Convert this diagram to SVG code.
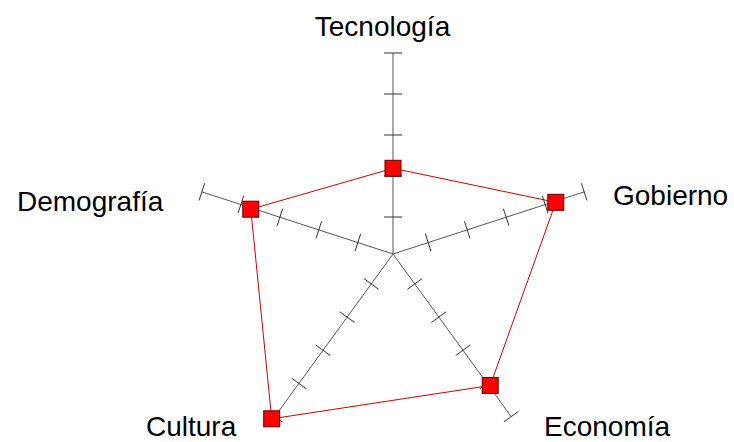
<svg xmlns="http://www.w3.org/2000/svg" width="734" height="442" viewBox="0 0 734 442">
  <style>
    .axis { stroke: #555; stroke-width: 1; fill: none; }
    .tick { stroke: #333; stroke-width: 1; }
    .series { stroke: #d00000; stroke-width: 1; fill: none; }
    .marker { fill: #ff0000; stroke: #600000; stroke-width: 1; }
    .label { font-family: "Liberation Sans", Arial, sans-serif; font-size: 28px; fill: #000; }
  </style>
  <rect width="734" height="442" fill="#fff"/>

  <!-- radial axes with tick marks -->
  <g id="connectors">
    <g id="axes">
      <line class="axis" x1="393" y1="254" x2="393" y2="53"/>
      <line class="axis" x1="393" y1="254" x2="584.15" y2="191.89"/>
      <line class="axis" x1="393" y1="254" x2="511.19" y2="416.61"/>
      <line class="axis" x1="393" y1="254" x2="274.81" y2="416.61"/>
      <line class="axis" x1="393" y1="254" x2="201.85" y2="191.89"/>
    </g>
    <g id="ticks">
      <!-- Tecnología -->
      <line class="tick" x1="384" y1="217" x2="402" y2="217"/>
      <line class="tick" x1="384" y1="176" x2="402" y2="176"/>
      <line class="tick" x1="384" y1="135" x2="402" y2="135"/>
      <line class="tick" x1="384" y1="94" x2="402" y2="94"/>
      <line class="tick" x1="384" y1="53" x2="402" y2="53"/>
      <!-- Gobierno -->
      <line class="tick" x1="425.41" y1="234.01" x2="430.97" y2="251.13"/>
      <line class="tick" x1="464.40" y1="221.34" x2="469.96" y2="238.46"/>
      <line class="tick" x1="503.39" y1="208.67" x2="508.95" y2="225.79"/>
      <line class="tick" x1="542.38" y1="196.00" x2="547.94" y2="213.12"/>
      <line class="tick" x1="581.37" y1="183.33" x2="586.93" y2="200.45"/>
      <!-- Economía -->
      <line class="tick" x1="407.48" y1="289.22" x2="422.04" y2="278.64"/>
      <line class="tick" x1="431.58" y1="322.39" x2="446.14" y2="311.81"/>
      <line class="tick" x1="455.69" y1="355.56" x2="470.25" y2="344.98"/>
      <line class="tick" x1="479.80" y1="388.73" x2="494.36" y2="378.15"/>
      <line class="tick" x1="503.91" y1="421.90" x2="518.47" y2="411.32"/>
      <!-- Cultura -->
      <line class="tick" x1="363.96" y1="278.64" x2="378.52" y2="289.22"/>
      <line class="tick" x1="339.86" y1="311.81" x2="354.42" y2="322.39"/>
      <line class="tick" x1="315.75" y1="344.98" x2="330.31" y2="355.56"/>
      <line class="tick" x1="291.64" y1="378.15" x2="306.20" y2="388.73"/>
      <line class="tick" x1="267.53" y1="411.32" x2="282.09" y2="421.90"/>
      <!-- Demografía -->
      <line class="tick" x1="355.03" y1="251.13" x2="360.59" y2="234.01"/>
      <line class="tick" x1="316.04" y1="238.46" x2="321.60" y2="221.34"/>
      <line class="tick" x1="277.05" y1="225.79" x2="282.61" y2="208.67"/>
      <line class="tick" x1="238.06" y1="213.12" x2="243.62" y2="196.00"/>
      <line class="tick" x1="199.07" y1="200.45" x2="204.63" y2="183.33"/>
    </g>
    <!-- data series outline -->
    <polygon id="series-line" class="series" points="393,168.3 555.8,202.3 490.2,385.5 271.7,418.8 250.8,209.2"/>
  </g>

  <!-- data points with their axis labels -->
  <g id="tecnologia">
    <rect class="marker" x="385" y="160.3" width="16" height="16"/>
    <text class="label" x="382.5" y="36" text-anchor="middle">Tecnología</text>
  </g>
  <g id="gobierno">
    <rect class="marker" x="547.8" y="194.3" width="16" height="16"/>
    <text class="label" x="613" y="205">Gobierno</text>
  </g>
  <g id="economia">
    <rect class="marker" x="482.2" y="377.5" width="16" height="16"/>
    <text class="label" x="544" y="436">Economía</text>
  </g>
  <g id="cultura">
    <rect class="marker" x="263.7" y="410.8" width="16" height="16"/>
    <text class="label" x="146" y="436">Cultura</text>
  </g>
  <g id="demografia">
    <rect class="marker" x="242.8" y="201.2" width="16" height="16"/>
    <text class="label" x="17" y="211">Demografía</text>
  </g>
</svg>
